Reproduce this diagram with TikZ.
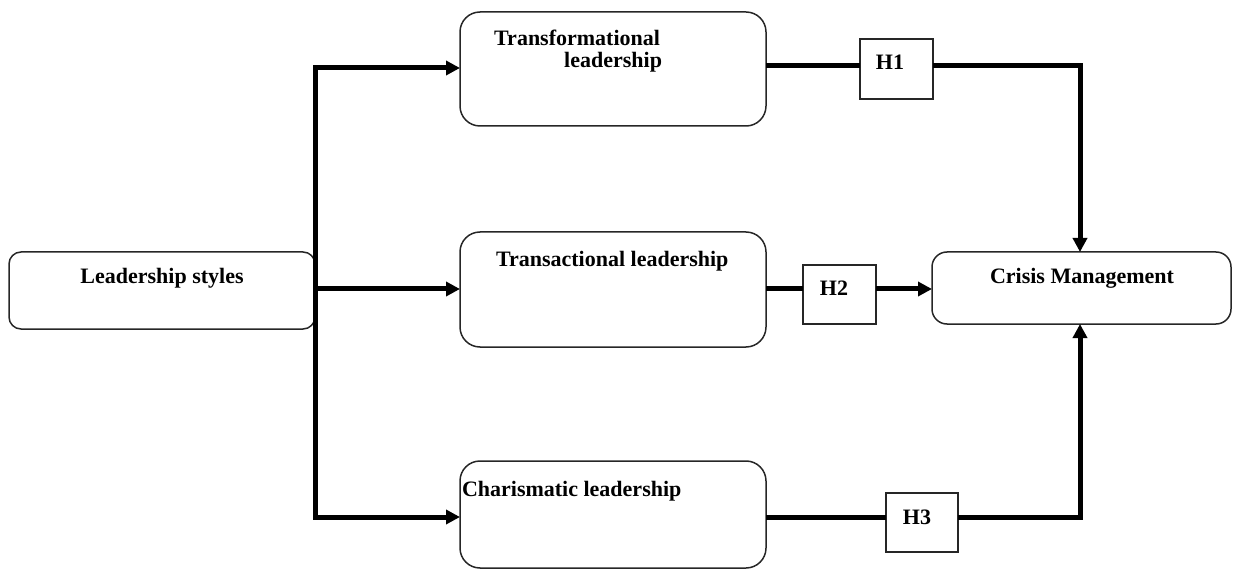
\documentclass[tikz,border=0pt]{standalone}
\usepackage{fontspec}
\setmainfont{Liberation Serif}
\usetikzlibrary{arrows.meta}
\tikzset{
  rbox/.style={draw=black!85, line width=1.5pt, rounded corners=#1, minimum width=306pt, inner sep=0pt, outer sep=0pt},
  rbox/.default=18pt,
  hbox/.style={draw=black!85, line width=1.5pt, minimum width=73pt, minimum height=59pt, inner sep=0pt, outer sep=0pt},
  lbl/.style={font=\fontsize{22}{23}\selectfont\bfseries, inner sep=0pt, outer sep=0pt},
  link/.style={line width=5pt, line join=miter},
  arr/.style={link, -{Triangle[length=14pt,width=14pt]}},
}
\begin{document}
\begin{tikzpicture}[x=1pt,y=-1pt]
\useasboundingbox (0,0) rectangle (1234,569);
% boxes
\node[rbox=12pt, minimum height=77pt] (LS) at (162,290.5) {};
\node[rbox=20pt, minimum height=114pt] (TF) at (613,69) {};
\node[rbox=20pt, minimum height=115pt] (TA) at (613,289.5) {};
\node[rbox=20pt, minimum height=107pt] (CH) at (613,514.5) {};
\node[rbox=15pt, minimum width=299pt, minimum height=72pt] (CM) at (1081.5,288) {};
\node[hbox, minimum height=60pt] (H1) at (896.5,69) {};
\node[hbox] (H2) at (839.5,294.5) {};
\node[hbox, minimum width=72pt] (H3) at (922,522.5) {};
% texts
\node[lbl, anchor=base] (LSt) at (162,284) {Leadership styles};
\node[lbl, anchor=base east] (TFt1) at (660,46) {Transformational};
\node[lbl, anchor=base east] (TFt2) at (662,68) {leadership};
\node[lbl, anchor=base west] (TAt) at (496,267) {Transactional leadership};
\node[lbl, anchor=base west] (CHt) at (462,496) {Charismatic leadership};
\node[lbl, anchor=base] (CMt) at (1082,284) {Crisis Management};
\node[lbl, anchor=base] (H1t) at (890,69.5) {H1};
\node[lbl, anchor=base] (H2t) at (834,296) {H2};
\node[lbl, anchor=base] (H3t) at (917,524) {H3};
% connector points
\coordinate (tTop) at (315,68);
\coordinate (tMid) at (315,289);
\coordinate (tBot) at (315,517);
\coordinate (o1) at (1080,66);
\coordinate (o3) at (1080,517);
% left trunk and arrows
\draw[arr] (tMid) -- (tTop) -- (TF.west |- tTop);
\draw[arr] (tMid) -- (tBot) -- (CH.west |- tBot);
\draw[arr] (tMid) -- (TA.west |- tMid);
% right side
\draw[link] (TF.east |- o1) -- (H1.west |- o1);
\draw[arr] (H1.east |- o1) -- (o1) -- (o1 |- CM.north);
\draw[link] (TA.east |- tMid) -- (H2.west |- tMid);
\draw[arr] (H2.east |- tMid) -- (CM.west |- tMid);
\draw[link] (CH.east |- o3) -- (H3.west |- o3);
\draw[arr] (H3.east |- o3) -- (o3) -- (o3 |- CM.south);
\end{tikzpicture}
\end{document}
